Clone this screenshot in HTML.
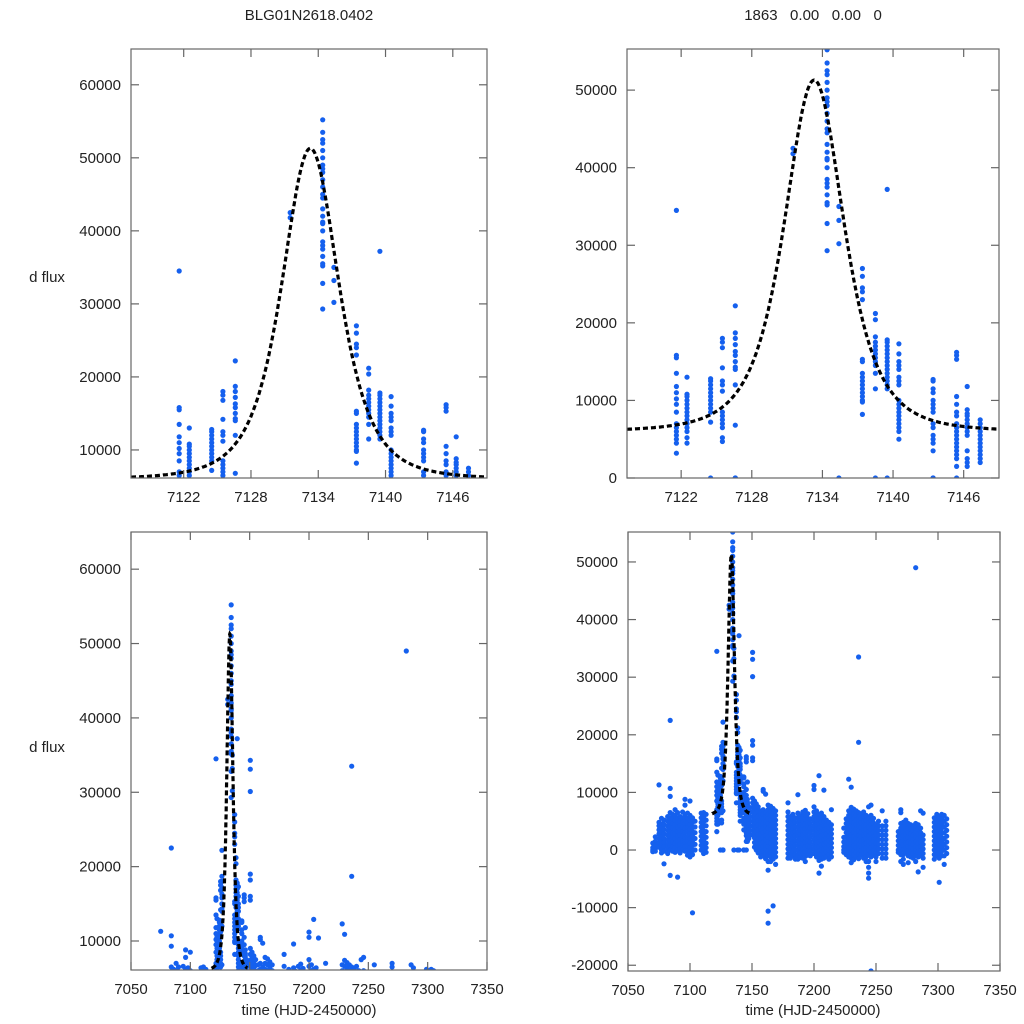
<!DOCTYPE html>
<html><head><meta charset="utf-8"><style>
html,body{margin:0;padding:0;background:#fff;width:1024px;height:1024px;overflow:hidden;}
svg{display:block;font-family:"Liberation Sans",Arial,sans-serif;}
</style></head><body>
<svg id="chart" width="1024" height="1024" viewBox="0 0 1024 1024" xmlns="http://www.w3.org/2000/svg">
<text x="309" y="20" font-size="15" text-anchor="middle" fill="#222">BLG01N2618.0402</text>
<text x="813" y="20" font-size="15" text-anchor="middle" fill="#222" xml:space="preserve">1863   0.00   0.00   0</text>
<text x="47" y="282" font-size="15" text-anchor="middle" fill="#222">d flux</text>
<text x="47" y="752" font-size="15" text-anchor="middle" fill="#222">d flux</text>
<text x="309" y="1015" font-size="15" text-anchor="middle" fill="#222">time (HJD-2450000)</text>
<text x="813" y="1015" font-size="15" text-anchor="middle" fill="#222">time (HJD-2450000)</text>
</svg>
<script>
// event nights (time, flux in thousands)
const evT = [7121.6,7122.5,7124.5,7125.5,7126.6,7131.5,7134.4,7135.4,7137.4,7138.5,7139.5,7140.5,7143.4,7145.4,7146.3,7147.4];
const evF = [
[34.5,15.8,15.5,13.5,11.8,11,10.2,9.5,8.5,7,6.5,6,5.5,5,4.5,3.2],
[13,10.8,10.5,10,9.5,9,8.5,8,7.5,7,6.5,6,5.2,4.5],
[12.8,12.5,12,11.5,11,10.5,10,9.5,9,8.5,7.2,0],
[18,17.5,16.8,14.2,12.5,12,11.2,8.5,8,7.5,7,6.5,5.2,4.7],
[22.2,18.7,18,17.2,16.3,15.8,15,14.3,14,12,6.8,0,0],
[42.5,41.8],
[55.2,53.5,52.5,52,51,50,49,48.5,48,47,46,45,44.5,43,42,41.2,41,40,38.5,38,37.5,36.5,35.5,35.2,32.8,29.3],
[35,33.2,30.2,0],
[27,26,24.5,24,23,15.3,15,13.5,13,12.5,12,11.5,11,10.5,10,9.8,8.2],
[21.2,20.4,18.2,17.5,17,16.5,16,15.5,15,14.5,13.5,11.5,0],
[37.2,17.8,17.5,17,16.5,16,15.5,15,14.5,14,13.5,13,12.5,12,11.5,0],
[17.3,16,15,14.5,14,13,12.5,12,10,9.5,9,8.5,8,7.5,7,6.5,6,5],
[12.7,12.5,11.5,11,10,9.5,9,8.5,7,6.5,5.5,5,4.5,3.5,0,0],
[16.2,15.8,15.3,10.5,9.5,8.5,8,7,6.5,6,5.5,5,4.5,4,3.5,3,2.5,1.5,0],
[11.8,8.8,8.3,8,7.5,7,6.5,6,5.5,3.5,2.5,2,1.5],
[7.5,7,6.5,6,5.5,5,4.5,4,3.5,3,2.5,2]
];
// baseline nights (time, flux in thousands)
const baseT = [7070,7072,7075,7077,7079,7082,7084,7086,7088,7090,7092,7094,7096,7098,7100,7102,7104,7109,7111,7113,
7150.5,7152,7153.5,7155,7157,7159,7161,7163,7165,7167,7169,
7179,7181,7183,7185,7187,7189,7191,7193,7195,7197,7200,7202,7204,7206,7208,7210,7212,7214,
7224,7226,7228,7230,7232,7234,7236,7238,7240,7242,7244,7246,7248,7250,7252,7255,7258,
7268,7270,7272,7274,7276,7278,7280,7282,7284,7286,7288,
7297,7299,7301,7303,7305,7307];
const baseF = [
[1.2,0.4,0,-0.3],
[2.3,1.5,0.8,0.2,-0.2],
[11.3,4.8,4.2,3.5,2.8,2,1.2,0.5],
[5.5,4.5,3.8,3,2.2,1.5,0.8,0,-0.5],
[5.2,4.4,3.6,2.8,2,1.3,0.6,-0.2,-2.4],
[5.8,5,4.2,3.4,2.6,1.8,1,0.2,-0.6],
[22.5,10.7,9.3,6.5,5.6,4.8,4,3.2,2.4,1.6,0.8,0,-4.4],
[6.2,5.4,4.6,3.8,3,2.2,1.4,0.6,-0.2],
[7,6,5.2,4.4,3.6,2.8,2,1.2,0.4,-0.4],
[6.5,5.6,4.8,4,3.2,2.4,1.6,0.8,0,-4.7],
[5.8,5,4.2,3.4,2.6,1.8,1,0.2,-0.5],
[6.6,5.6,4.8,4,3.2,2.4,1.6,0.8,0],
[8.8,7.8,6.2,5.4,4.6,3.8,3,2.2,1.4,0.6,-0.2],
[6.4,5.5,4.7,3.9,3.1,2.3,1.5,0.7,-0.1,-0.9],
[8.5,6,5.2,4.4,3.6,2.8,2,1.2,0.4,-0.4,-1.2],
[5.6,4.8,4,3.2,2.4,1.6,0.8,0,-0.8,-10.9],
[5,4,3,2,1,0],
[6.4,5.6,4.8,4,3.2,2.4,1.6,0.8,0],
[6.5,5.7,4.9,4.1,3.3,2.5,1.7,0.9,0.1,-0.6],
[6.2,5.2,4.2,3.2,2.2,1.2,0.4,-0.4],
[34.3,33.1,30.1,19,18.2,16,15.5,9,8.2,7.4,6.6,5.8,5,4.2,3.4,2.6],
[8.5,7.7,6.9,6.1,5.3,4.5,3.7,2.9,2.1,1.3,0.5],
[8,7.2,6.4,5.6,4.8,4,3.2,2.4,1.6,0.8,0],
[7.5,6.7,5.9,5.1,4.3,3.5,2.7,1.9,1.1,0.3,-0.5],
[6.8,6,5.2,4.4,3.6,2.8,2,1.2,0.4,-0.4,-1.2],
[10.5,10.2,7,6.2,5.4,4.6,3.8,3,2.2,1.4,0.6,-0.2,-1],
[9.7,6.5,5.7,4.9,4.1,3.3,2.5,1.7,0.9,0.1,-0.7,-1.5],
[7.8,7,6.2,5.4,4.6,3.8,3,2.2,1.4,0.6,-0.2,-1,-2,-3.5,-10.6,-12.7],
[7.6,6.8,6,5.2,4.4,3.6,2.8,2,1.2,0.4,-0.4,-1.2,-2],
[7.2,6.4,5.6,4.8,4,3.2,2.4,1.6,0.8,0,-0.8,-1.6,-9.7],
[6.8,6,5.2,4.4,3.6,2.8,2,1.2,0.4,-0.4,-1.2,-2.5],
[8.2,6.6,5.8,5,4.2,3.4,2.6,1.8,1,0.2,-0.6,-1.4],
[5.8,5,4.2,3.4,2.6,1.8,1,0.2,-0.6,-1.4],
[6.2,5.4,4.6,3.8,3,2.2,1.4,0.6,-0.2,-1],
[5.6,4.8,4,3.2,2.4,1.6,0.8,0,-0.8,-1.6],
[9.6,6.4,5.6,4.8,4,3.2,2.4,1.6,0.8,0,-0.8,-1.6],
[5.9,5.1,4.3,3.5,2.7,1.9,1.1,0.3,-0.5,-1.3],
[6.6,5.8,5,4.2,3.4,2.6,1.8,1,0.2,-0.6,-1.4],
[6.9,6.1,5.3,4.5,3.7,2.9,2.1,1.3,0.5,-0.3,-1.1,-2],
[6.3,5.5,4.7,3.9,3.1,2.3,1.5,0.7,-0.1,-0.9],
[5.4,4.6,3.8,3,2.2,1.4,0.6,-0.2,-1],
[11.2,10.5,7.5,6.6,5.8,5,4.2,3.4,2.6,1.8,1,0.2,-0.6],
[6.8,6,5.2,4.4,3.6,2.8,2,1.2,0.4,-0.4,-1.2],
[12.9,6.2,5.4,4.6,3.8,3,2.2,1.4,0.6,-0.2,-1,-1.8,-4],
[6.4,5.6,4.8,4,3.2,2.4,1.6,0.8,0,-0.8,-1.6,-2.8],
[10.4,5.8,5,4.2,3.4,2.6,1.8,1,0.2,-0.6,-1.4],
[5.2,4.4,3.6,2.8,2,1.2,0.4,-0.4,-1.2],
[4.8,4,3.2,2.4,1.6,0.8,0,-0.8,-1.6],
[7,4.4,3.6,2.8,2,1.2,0.4,-0.4,-1.2],
[3.8,2.2,1.4,0.6,0,-0.4],
[5.4,4.6,3.8,3,2.2,1.4,0.6,0,-0.8],
[12.3,6.8,6,5.2,4.4,3.6,2.8,2,1.2,0.4,-0.4,-1.2],
[10.9,7.4,6.6,5.8,5,4.2,3.4,2.6,1.8,1,0.2,-0.6,-1.4,-2.2],
[7.1,6.3,5.5,4.7,3.9,3.1,2.3,1.5,0.7,-0.1,-0.9,-1.7],
[6.8,6,5.2,4.4,3.6,2.8,2,1.2,0.4,-0.4,-1.2],
[33.5,18.7,6.5,5.7,4.9,4.1,3.3,2.5,1.7,0.9,0.1,-0.7,-1.5],
[6.3,5.5,4.7,3.9,3.1,2.3,1.5,0.7,-0.1,-0.9],
[6.6,5.8,5,4.2,3.4,2.6,1.8,1,0.2,-0.6,-1.4],
[6,5.2,4.4,3.6,2.8,2,1.2,0.4,-0.4,-1.2,-2],
[7.5,5.6,4.8,4,3.2,2.4,1.6,0.8,0,-0.8,-2,-3,-4,-4.9],
[7.8,6,5.2,4.4,3.6,2.8,2,1.2,0.4,-0.4,-1.2,-21],
[5.5,4.7,3.9,3.1,2.3,1.5,0.7,-0.1,-0.9],
[4.4,3.6,2.8,2,1.2,0.4,-0.4,-1.2,-2],
[5,4.2,3.4,2.6,1.8,1,0.2,-0.6],
[6.8,4.2,3.4,2.6,1.8,1,0.2,-0.6,-1.4],
[5,4.2,3.4,2.6,1.8,1,0.2,-0.6,-1.4],
[3.2,2.4,1.6,0.8,0,-0.4],
[7,6.5,4.6,3.8,3,2.2,1.4,0.6,0,-0.8,-2],
[4.8,4,3.2,2.4,1.6,0.8,0,-0.8,-1.6,-2.5],
[5.2,4.4,3.6,2.8,2,1.2,0.4,-0.4],
[4.6,3.8,3,2.2,1.4,0.6,-0.2,-1,-2.2],
[4.4,3.6,2.8,2,1.2,0.4,-0.4,-1.2],
[4.2,3.4,2.6,1.8,1,0.2,-0.6,-1.4],
[49,4.6,3.8,3,2.2,1.4,0.6,-0.2,-1,-2],
[4.4,3.6,2.8,2,1.2,0.4,-0.4,-1.2,-3.8],
[6.8,3.8,3,2.2,1.4,0.6,-0.2,-1],
[6.4,2.6,1.8,1,0.2,-0.6,-1.4,-3],
[5.6,4.8,4,3.2,2.4,1.6,0.8,0,-0.8,-1.6],
[6.2,5.4,4.6,3.8,3,2.2,1.4,0.6,-0.2,-1],
[5.8,5,4.2,3.4,2.6,1.8,1,0.2,-0.6,-1.4,-5.6],
[6.2,5.4,4.6,3.8,3,2.2,1.4,0.6,-0.2,-1],
[6,5,4,3,2,1,0,-1,-2.5],
[5.4,4.4,3.4,2.4,1.4,0.4,-0.6]
];
// model parameters
const modelT0 = 7133.3, modelBase = 6000, modelAmp = 45300, modelW = 4.66, modelP = 2;
const xTicksTop = [7122,7128,7134,7140,7146];
const xTicksBottom = [7050,7100,7150,7200,7250,7300,7350];
const yTicksTL = [10000,20000,30000,40000,50000,60000];
const yTicksTR = [0,10000,20000,30000,40000,50000];
const yTicksBL = [10000,20000,30000,40000,50000,60000];
const yTicksBR = [-20000,-10000,0,10000,20000,30000,40000,50000];

const NS='http://www.w3.org/2000/svg';
const svg=document.getElementById('chart');
function mk(tag,attrs,parent){const e=document.createElementNS(NS,tag);for(const k in attrs)e.setAttribute(k,attrs[k]);(parent||svg).appendChild(e);return e;}
function model(t){const u=(t-modelT0)/modelW;return modelBase+modelAmp/Math.pow(1+u*u,modelP);}

const panels=[
{id:'top-left',x0:131,x1:487,y0:49,y1:478,t0:7117.3,t1:7149.05,f0:6160,f1:64900,xt:xTicksTop,yt:yTicksTL,m0:7117.3,m1:7149.05},
{id:'top-right',x0:627,x1:999,y0:49,y1:478,t0:7117.4,t1:7149.0,f0:0,f1:55300,xt:xTicksTop,yt:yTicksTR,m0:7117.4,m1:7149.0},
{id:'bottom-left',x0:131,x1:487,y0:532,y1:970,t0:7050,t1:7350,f0:6100,f1:65000,xt:xTicksBottom,yt:yTicksBL,m0:7118,m1:7148},
{id:'bottom-right',x0:628,x1:1000,y0:532,y1:971,t0:7050,t1:7350,f0:-21000,f1:55200,xt:xTicksBottom,yt:yTicksBR,m0:7118,m1:7148}
];
panels.forEach((p,pi)=>{
  const g=mk('g',{});
  
  
  const xs=t=>p.x0+(t-p.t0)/(p.t1-p.t0)*(p.x1-p.x0);
  const ys=f=>p.y1-(f-p.f0)/(p.f1-p.f0)*(p.y1-p.y0);
  const cp=mk('clipPath',{id:'clip'+pi},g);
  mk('rect',{x:p.x0,y:p.y0,width:p.x1-p.x0,height:p.y1-p.y0},cp);
  const dg=mk('g',{'clip-path':'url(#clip'+pi+')'},g);
  
  
  function dot(t,fk){
    const cx=xs(t), cy=ys(fk*1000);
    if(cx<p.x0-3||cx>p.x1+3||cy<p.y0-3||cy>p.y1+3) return;
    const c=mk('circle',{cx:cx.toFixed(1),cy:cy.toFixed(1),r:2.6,fill:'#1560ee'},dg);
    
    
  }
  baseT.forEach((t,i)=>(baseF[i]||[]).forEach(f=>dot(t,f)));
  evT.forEach((t,i)=>(evF[i]||[]).forEach(f=>dot(t,f)));
  let d='';
  for(let k=0;k<=300;k++){const t=p.m0+(p.m1-p.m0)*k/300;d+=(k?'L':'M')+xs(t).toFixed(1)+' '+ys(model(t)).toFixed(1);}
  const ml=mk('path',{d:d,fill:'none',stroke:'#000','stroke-width':3.2,'stroke-dasharray':'5 3'},dg);
  
  
  const fr=mk('rect',{x:p.x0,y:p.y0,width:p.x1-p.x0,height:p.y1-p.y0,fill:'none',stroke:'#666','stroke-width':1.2},g);
  
  
  p.xt.forEach(t=>{
    const x=xs(t);
    mk('line',{x1:x,x2:x,y1:p.y1,y2:p.y1-8,stroke:'#666','stroke-width':1.2},g);
    mk('line',{x1:x,x2:x,y1:p.y0,y2:p.y0+8,stroke:'#666','stroke-width':1.2},g);
    const tx=mk('text',{x:x,y:p.y1+24,'font-size':15,'text-anchor':'middle',fill:'#222'},g);
    tx.textContent=t;
    
    
  });
  p.yt.forEach(f=>{
    const y=ys(f);
    mk('line',{x1:p.x0,x2:p.x0+8,y1:y,y2:y,stroke:'#666','stroke-width':1.2},g);
    mk('line',{x1:p.x1,x2:p.x1-8,y1:y,y2:y,stroke:'#666','stroke-width':1.2},g);
    const tx=mk('text',{x:p.x0-10,y:y+5,'font-size':15,'text-anchor':'end',fill:'#222'},g);
    tx.textContent=f;
    
    
  });
});
</script>
</body></html>
